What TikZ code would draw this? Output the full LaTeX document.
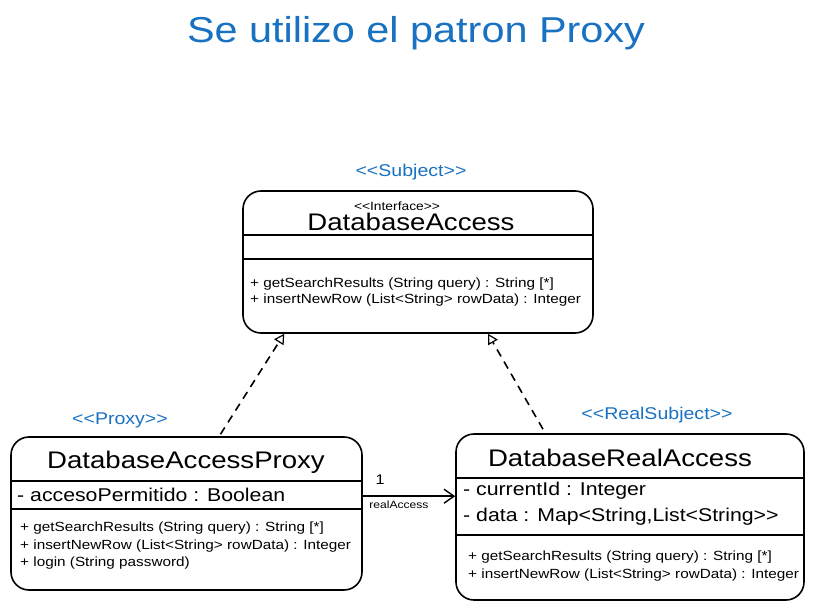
\documentclass[tikz,border=0pt]{standalone}
\usepackage{fontspec}
\setmainfont{Liberation Sans}[FakeStretch=1.15, Ligatures=TeXOff]
\usetikzlibrary{arrows.meta,calc}
\definecolor{exblue}{HTML}{1971C2}
\begin{document}
\begin{tikzpicture}[x=1pt,y=-1pt,
  cls/.style={draw, line width=1.6pt, rounded corners=18pt, inner sep=0pt},
  sep/.style={line width=1.6pt},
  cname/.style={font=\fontsize{24}{26}\selectfont},
  attr/.style={anchor=west, inner sep=0pt, font=\fontsize{18.5}{20}\selectfont},
  meth/.style={anchor=west, inner sep=0pt, font=\fontsize{13.3}{14}\selectfont},
  stereo/.style={text=exblue, font=\fontsize{17}{19}\selectfont},
  realize/.style={dashed, line width=1.6pt, dash pattern=on 8pt off 6pt, -{Triangle[open, length=10pt, width=11pt, line width=1.2pt]}},
]
\useasboundingbox (0,0) rectangle (815,610);

\node[text=exblue, font=\fontsize{36}{38}\selectfont] (title) at (416,33) {Se utilizo el patron Proxy};

% DatabaseAccess
\node[cls, minimum width=350pt, minimum height=142pt] (da) at (418,262) {};
\node[stereo] (daS) at (411,172) {<<Subject>>};
\node[font=\fontsize{12}{13}\selectfont, inner sep=0pt] (daI) at (397,206) {<<Interface>>};
\node[cname, inner sep=0pt] (daN) at (411,222) {DatabaseAccess};
\draw[line width=2.2pt] ($(da.north west)+(0,45)$) -- ($(da.north east)+(0,45)$);
\draw[sep] ($(da.north west)+(0,69)$) -- ($(da.north east)+(0,69)$);
\node[meth] (daM1) at (250,284) {+ getSearchResults (String query) : String [*]};
\node[meth] (daM2) at (250,300) {+ insertNewRow (List<String> rowData) : Integer};

% DatabaseAccessProxy
\node[cls, minimum width=351pt, minimum height=153pt] (px) at (186.5,513.5) {};
\node[stereo] (pxS) at (120,420) {<<Proxy>>};
\node[cname, inner sep=0pt] (pxN) at (186,462) {DatabaseAccessProxy};
\draw[sep] ($(px.north west)+(0,45)$) -- ($(px.north east)+(0,45)$);
\draw[sep] ($(px.north west)+(0,73)$) -- ($(px.north east)+(0,73)$);
\node[attr] (pxA1) at (17,495) {- accesoPermitido : Boolean};
\node[meth] (pxM1) at (20,528) {+ getSearchResults (String query) : String [*]};
\node[meth] (pxM2) at (20,546) {+ insertNewRow (List<String> rowData) : Integer};
\node[meth] (pxM3) at (20,563) {+ login (String password)};

% DatabaseRealAccess
\node[cls, minimum width=348pt, minimum height=166pt] (ra) at (630,517) {};
\node[stereo] (raS) at (657,415) {<<RealSubject>>};
\node[cname, inner sep=0pt] (raN) at (620,458) {DatabaseRealAccess};
\draw[sep] ($(ra.north west)+(0,45)$) -- ($(ra.north east)+(0,45)$);
\draw[sep] ($(ra.north west)+(0,102)$) -- ($(ra.north east)+(0,102)$);
\node[attr] (raA1) at (463,491) {- currentId : Integer};
\node[attr] (raA2) at (463,517) {- data : Map<String,List<String>>};
\node[meth] (raM1) at (468,557) {+ getSearchResults (String query) : String [*]};
\node[meth] (raM2) at (468,575) {+ insertNewRow (List<String> rowData) : Integer};

% connectors
\draw[realize] ($(px.north)+(34,-2)$) -- ($(da.south west)+(42,0)$);
\draw[realize] ($(ra.north)+(-87,-4)$) -- ($(da.south)+(70,0)$);
\coordinate (asA) at ($(px.north east)+(0,60)$);
\coordinate (asB) at ($(ra.north west)+(0,63)$);
\draw[line width=1.6pt, -{Straight Barb[length=10pt, width=14pt, line width=1.4pt]}] (asA) -- (asB);
\node[font=\fontsize{14}{15}\selectfont] (one) at (380,480) {1};
\node[font=\fontsize{10.5}{11}\selectfont, inner sep=0pt] (ralab) at (399,505) {realAccess};
\end{tikzpicture}
\end{document}
